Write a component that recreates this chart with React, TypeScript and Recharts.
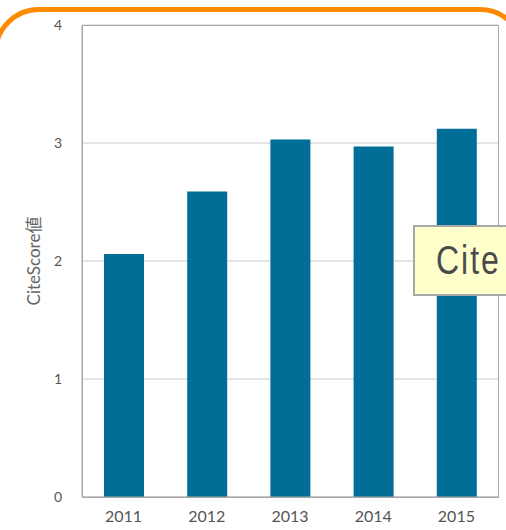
import { BarChart, Bar, XAxis, YAxis, CartesianGrid } from 'recharts';

const years = ['2011', '2012', '2013', '2014', '2015'];
const citeScores = [2.06, 2.59, 3.03, 2.97, 3.12];
const yTicks = [0, 1, 2, 3, 4];

const data = years.map((year, i) => ({ year, value: citeScores[i] }));

const font = 'Lato, "Noto Sans", sans-serif';

export default function App() {
  return (
    <div style={{ position: 'absolute', left: 0, top: 0, width: 506, height: 530, overflow: 'hidden', background: '#fff' }}>
      {/* orange rounded frame, sides run off the page */}
      <div
        style={{
          position: 'absolute', left: -7, top: 7, width: 533, height: 620,
          border: '5px solid #ff8a00', borderRadius: 46, boxSizing: 'border-box',
        }}
      />
      <div style={{ position: 'absolute', left: 0, top: 0 }}>
        <BarChart width={506} height={530} data={data} margin={{ top: 25, right: 8, bottom: 0, left: 0 }}>
          <CartesianGrid vertical={false} stroke="#c8c8c8" />
          <XAxis
            dataKey="year"
            height={33}
            tickLine={false}
            tickSize={0}
            tickMargin={14}
            axisLine={{ stroke: '#a8a8a8' }}
            tick={{ fontSize: 16, fill: '#555', fontFamily: font }}
          />
          <YAxis
            domain={[0, 4]}
            ticks={yTicks}
            width={82}
            tickLine={false}
            tickSize={0}
            tickMargin={20}
            axisLine={{ stroke: '#a8a8a8' }}
            tick={{ fontSize: 14, fill: '#555', fontFamily: font }}
            label={{
              content: ({ viewBox }: any) => {
                const cy = viewBox.y + viewBox.height / 2;
                return (
                  <text
                    x={33}
                    y={cy}
                    transform={`rotate(-90 33 ${cy})`}
                    textAnchor="middle"
                    dominantBaseline="central"
                    fontSize={17}
                    fill="#666"
                    fontFamily='Lato, "Noto Sans CJK JP", sans-serif'
                  >
                    CiteScore値
                  </text>
                );
              },
            }}
          />
          <Bar dataKey="value" fill="#006e96" barSize={40} isAnimationActive={false} />
        </BarChart>
      </div>
      {/* plot frame */}
      <div
        style={{
          position: 'absolute', left: 82, top: 25, width: 417, height: 473,
          border: '1px solid #a8a8a8', boxSizing: 'border-box', pointerEvents: 'none',
        }}
      />
      {/* callout box cut off at the right edge */}
      <div
        style={{
          position: 'absolute', left: 413, top: 225, width: 140, height: 71,
          background: '#ffffcc', border: '2px solid #a9a9a9', boxSizing: 'border-box',
          paddingLeft: 21, paddingTop: 8,
        }}
      >
        <span
          style={{
            display: 'inline-block', transform: 'scaleY(1.25)', transformOrigin: 'top left',
            fontFamily: '"Liberation Sans", Arial, sans-serif', fontSize: 32, letterSpacing: 2,
            color: '#4a4a4a', lineHeight: '40px',
          }}
        >
          Cite
        </span>
      </div>
    </div>
  );
}
